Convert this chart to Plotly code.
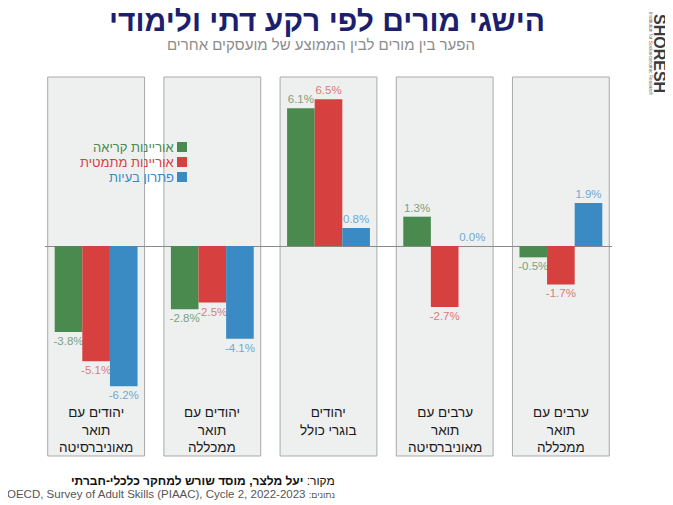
import plotly.graph_objects as go

# --- data --------------------------------------------------------------------
groups = ["יהודים עם<br>תואר<br>מאוניברסיטה", "יהודים עם<br>תואר<br>ממכללה",
          "יהודים<br>בוגרי כולל", "ערבים עם<br>תואר<br>מאוניברסיטה",
          "ערבים עם<br>תואר<br>ממכללה"]
series_names = ["אוריינות קריאה", "אוריינות מתמטית", "פתרון בעיות"]
reading = [-3.8, -2.8, 6.1, 1.3, -0.5]
numeracy = [-5.1, -2.5, 6.5, -2.7, -1.7]
problem_solving = [-6.2, -4.1, 0.8, 0.0, 1.9]

title = "הישגי מורים לפי רקע דתי ולימודי"
subtitle = "הפער בין מורים לבין הממוצע של מועסקים אחרים"
source = "מקור: <b>יעל מלצר, מוסד שורש למחקר כלכלי-חברתי</b>"
data_note = ("OECD, Survey of Adult Skills (PIAAC), Cycle 2, 2022-2023 "
             "<span style='font-size:9px'>:נתונים</span>")

BAR_COL = ["#4a8a4f", "#d6403e", "#3a8ac4"]
TXT_COL = ["#7d9f7f", "#d97c7a", "#72a8d2"]
FONT = "Arial, Liberation Sans, sans-serif"

# the page body adds an 8px margin, so the figure is drawn 8px in from the corner;
# positions below are measured in window pixels and shifted back by OFF
OFF = 8
W, H = 673 - OFF, 505 - OFF
L, T = 45 - OFF, 77 - OFF          # plot area: window x 45..612, y 77..456
R, B = W - (612 - OFF), H - (456 - OFF)
PW, PH = W - L - R, H - T - B


def px(x):  # window pixel -> paper x
    return (x - OFF - L) / PW


def py(y):  # window pixel -> paper y
    return (H - B - (y - OFF)) / PH


fig = go.Figure()
for name, vals, bc, tc in zip(series_names, [reading, numeracy, problem_solving],
                              BAR_COL, TXT_COL):
    fig.add_trace(go.Bar(
        x=list(range(len(groups))), y=vals, name=name,
        marker=dict(color=bc, line_width=0),
        texttemplate="%{y:.1f}%", textposition="outside", constraintext="none",
        cliponaxis=False, textfont=dict(family=FONT, size=11.5, color=tc),
        hoverinfo="skip", showlegend=False))

# grey panel per group, with its label at the bottom
for i in range(len(groups)):
    fig.add_shape(type="rect", xref="x", yref="paper", x0=i - 0.4167, x1=i + 0.4167,
                  y0=0, y1=1, fillcolor="#eef0f0", line=dict(color="#a9a9a9", width=1),
                  layer="below")
    fig.add_annotation(x=i, y=-6.95, xref="x", yref="y", text=groups[i],
                       showarrow=False, yanchor="top", xanchor="center",
                       font=dict(family=FONT, size=13.5, color="#1a1a1a"))

# legend (right-to-left: square on the right of the text)
for k, (name, bc) in enumerate(zip(series_names, BAR_COL)):
    yc = 147 + 15 * k
    fig.add_shape(type="rect", xref="paper", yref="paper", x0=px(177), x1=px(187),
                  y0=py(yc + 5), y1=py(yc - 5), fillcolor=bc, line_width=0)
    fig.add_annotation(x=px(176), y=py(yc), xref="paper", yref="paper", text=name,
                       showarrow=False, xanchor="right", yanchor="middle",
                       font=dict(family=FONT, size=13, color=bc))

# subtitle, source
fig.add_annotation(x=px(321), y=py(45), xref="paper", yref="paper", text=subtitle,
                   showarrow=False, xanchor="center", yanchor="middle",
                   font=dict(family=FONT, size=15, color="#8c8c8c"))
fig.add_annotation(x=px(337), y=py(481), xref="paper", yref="paper", text=source,
                   showarrow=False, xanchor="right", yanchor="middle",
                   font=dict(family=FONT, size=12, color="#111"))
fig.add_annotation(x=px(337), y=py(494), xref="paper", yref="paper", text=data_note,
                   showarrow=False, xanchor="right", yanchor="middle",
                   font=dict(family=FONT, size=11.5, color="#555"))

# logo
fig.add_annotation(x=px(660), y=py(53), xref="paper", yref="paper", text="<b>SHORESH</b>",
                   showarrow=False, textangle=90, xanchor="center", yanchor="middle",
                   font=dict(family=FONT, size=16, color="#3c3c3c"))
fig.add_annotation(x=px(650), y=py(54), xref="paper", yref="paper",
                   text="Institution for Socioeconomic Research",
                   showarrow=False, textangle=90, xanchor="center", yanchor="middle",
                   font=dict(family=FONT, size=4.8, color="#666"))
fig.add_shape(type="circle", xref="paper", yref="paper", x0=px(667), x1=px(670),
              y0=py(41), y1=py(38), fillcolor="#2a6db5", line_width=0)

fig.update_layout(
    width=W, height=H, margin=dict(l=L, r=R, t=T, b=B),
    paper_bgcolor="white", plot_bgcolor="white",
    title=dict(text=f"<b>{title}</b>", x=px(327), xref="paper", xanchor="center",
               y=1 - (20 - OFF) / H, yanchor="middle",
               font=dict(family=FONT, size=30, color="#1c1f6e")),
    barmode="group", bargap=0.287, bargroupgap=0,
    xaxis=dict(range=[-0.44, 4.44], showticklabels=False, showgrid=False,
               zeroline=False, ticks=""),
    yaxis=dict(range=[-9.29, 7.48], showticklabels=False, showgrid=False,
               zeroline=True, zerolinecolor="#8a8a8a", zerolinewidth=1, ticks=""),
)

fig.write_html("out.html")
